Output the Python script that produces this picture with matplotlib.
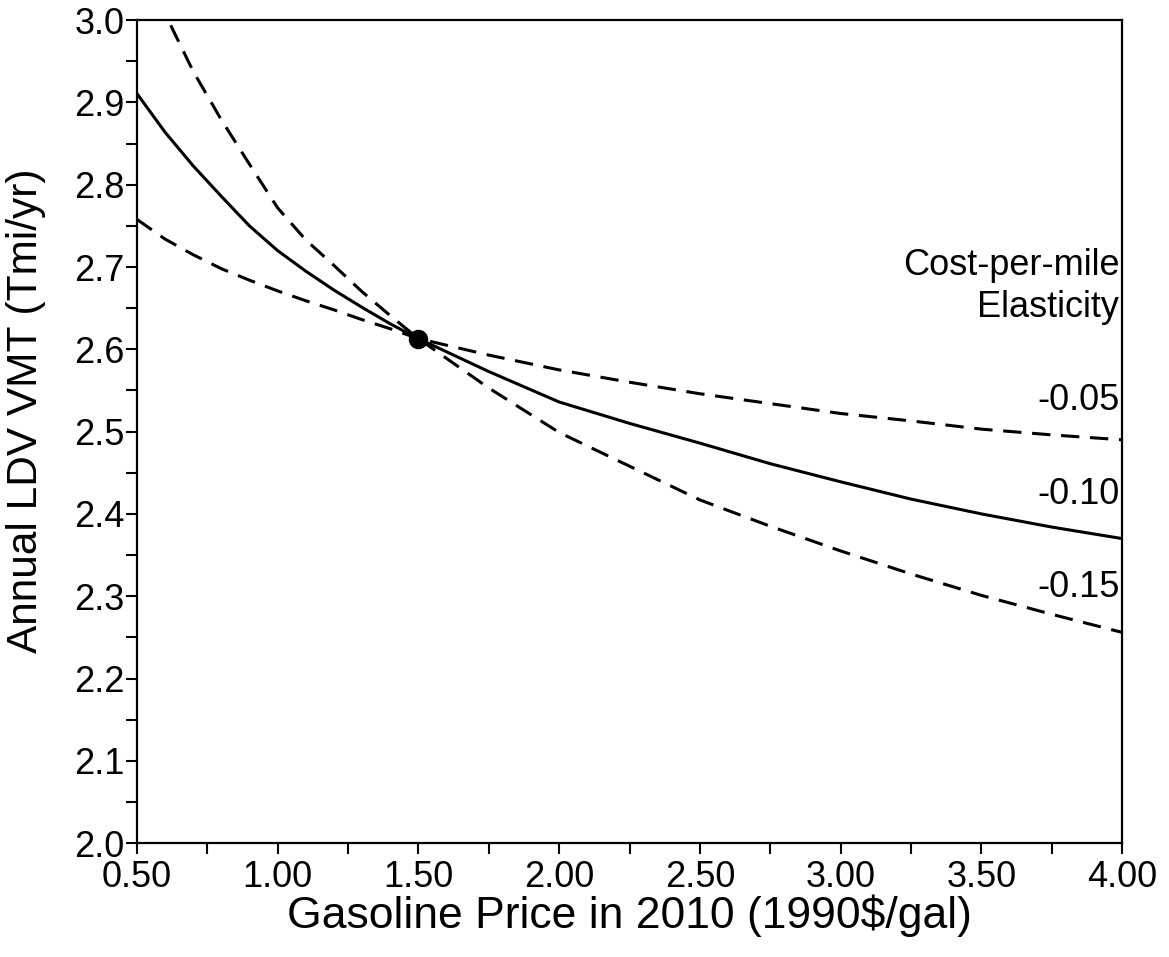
import matplotlib
matplotlib.use("Agg")
import matplotlib.pyplot as plt
from matplotlib.ticker import FixedLocator, FormatStrFormatter

# gasoline price in 2010 (1990$/gal)
price = [0.50, 0.60, 0.70, 0.80, 0.90, 1.00, 1.10, 1.20, 1.30, 1.40, 1.50,
         1.75, 2.00, 2.25, 2.50, 2.75, 3.00, 3.25, 3.50, 3.75, 4.00]

# annual LDV VMT (Tmi/yr) for each cost-per-mile elasticity
vmt_005 = [2.758, 2.734, 2.715, 2.698, 2.684, 2.671, 2.659, 2.648, 2.636, 2.625, 2.613,
           2.593, 2.575, 2.560, 2.546, 2.534, 2.522, 2.513, 2.503, 2.496, 2.490]
vmt_010 = [2.911, 2.864, 2.823, 2.786, 2.750, 2.720, 2.695, 2.672, 2.651, 2.631, 2.613,
           2.573, 2.536, 2.510, 2.486, 2.461, 2.439, 2.418, 2.400, 2.384, 2.370]
vmt_015 = [3.083, 3.008, 2.938, 2.879, 2.825, 2.772, 2.733, 2.702, 2.670, 2.641, 2.613,
           2.553, 2.499, 2.458, 2.417, 2.385, 2.355, 2.327, 2.301, 2.278, 2.256]

base_price = 1.50
base_vmt = 2.613

curve_labels = ["-0.05", "-0.10", "-0.15"]
label_y = [2.538, 2.423, 2.310]

plt.rcParams["font.family"] = ["Liberation Sans", "DejaVu Sans"]

fig = plt.figure(figsize=(11.69, 9.57), dpi=100)
ax = fig.add_axes([0.117, 0.119, 0.843, 0.860])

dash = (6, 3.5)
ax.plot(price, vmt_005, color="black", lw=2.2, dashes=dash)
ax.plot(price, vmt_010, color="black", lw=2.2)
ax.plot(price, vmt_015, color="black", lw=2.2, dashes=dash)
ax.plot([base_price], [base_vmt], "o", color="black", ms=13)

ax.set_xlim(0.5, 4.0)
ax.set_ylim(2.0, 3.0)

ax.xaxis.set_major_locator(FixedLocator([0.5, 1.0, 1.5, 2.0, 2.5, 3.0, 3.5, 4.0]))
ax.xaxis.set_minor_locator(FixedLocator([0.75, 1.25, 1.75, 2.25, 2.75, 3.25, 3.75]))
ax.yaxis.set_major_locator(FixedLocator([2.0 + 0.1 * i for i in range(11)]))
ax.yaxis.set_minor_locator(FixedLocator([2.05 + 0.1 * i for i in range(10)]))
ax.xaxis.set_major_formatter(FormatStrFormatter("%.2f"))
ax.yaxis.set_major_formatter(FormatStrFormatter("%.1f"))

ax.tick_params(axis="both", which="both", direction="out", length=8, width=1.5,
               labelsize=26, top=False, right=False)
ax.tick_params(axis="y", pad=1)
ax.tick_params(axis="x", pad=4)
for sp in ax.spines.values():
    sp.set_linewidth(1.6)

ax.set_xlabel("Gasoline Price in 2010 (1990$/gal)", fontsize=32, labelpad=0)
ax.set_ylabel("Annual LDV VMT (Tmi/yr)", fontsize=30.5)
ax.yaxis.set_label_coords(-0.092, 0.525)

trans = ax.get_yaxis_transform()
ax.text(0.997, 2.702, "Cost-per-mile", transform=trans, ha="right", va="center", fontsize=26)
ax.text(0.997, 2.651, "Elasticity", transform=trans, ha="right", va="center", fontsize=26)
for lab, yy in zip(curve_labels, label_y):
    ax.text(0.997, yy, lab, transform=trans, ha="right", va="center", fontsize=26)

fig.savefig("out.png", dpi=100)
